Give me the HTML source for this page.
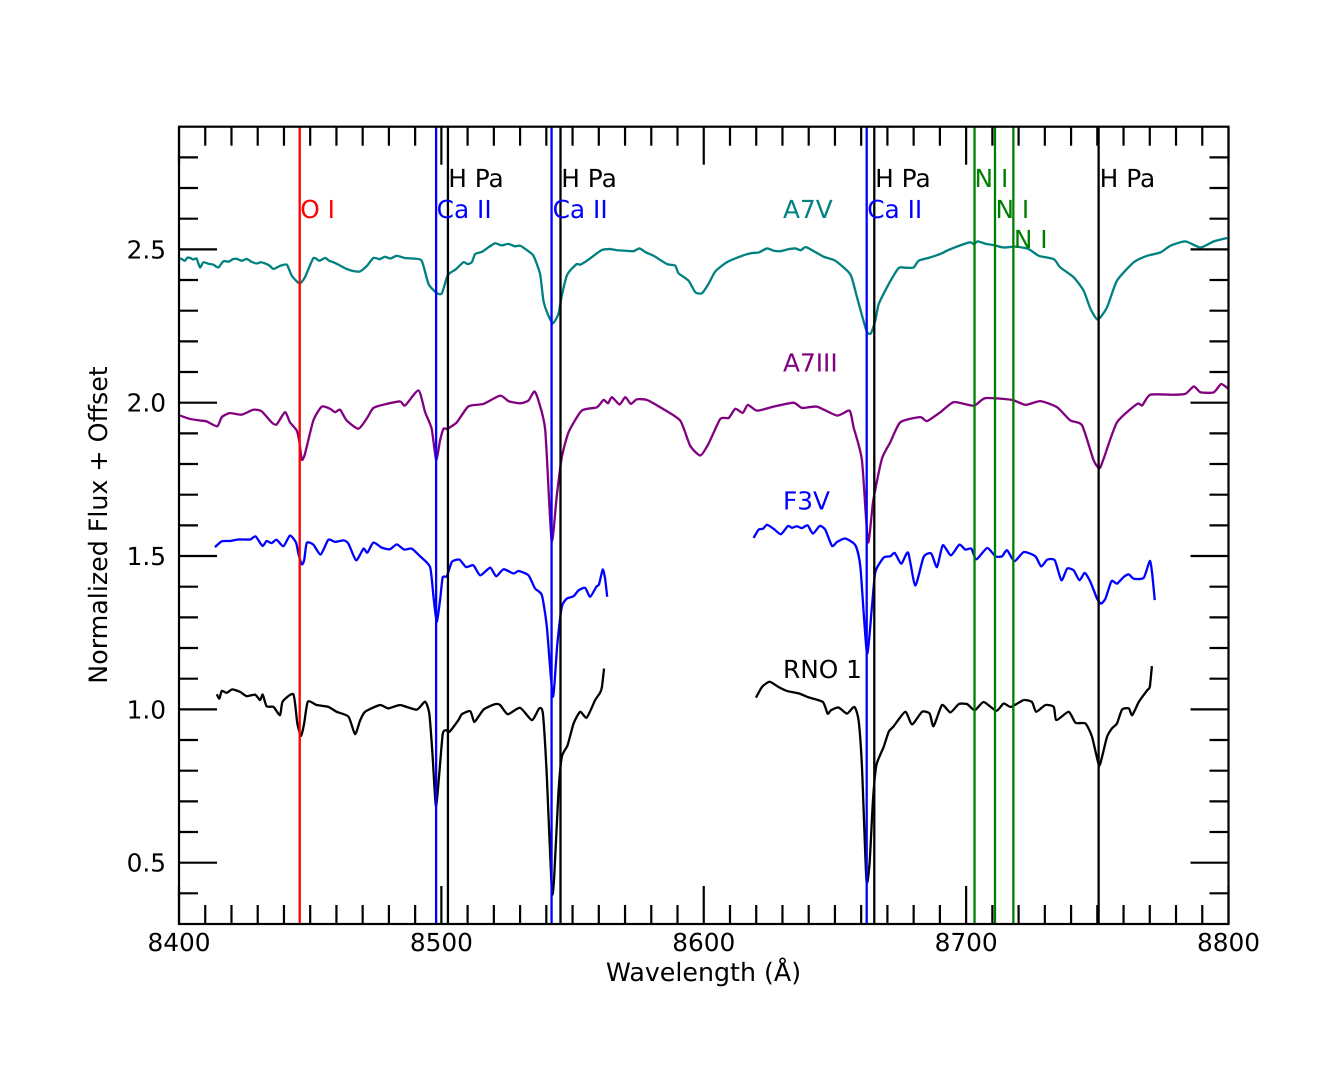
<!DOCTYPE html>
<html lang="en">
<head>
<meta charset="utf-8">
<title>Normalized spectra</title>
<style>
html,body{margin:0;padding:0;background:#fff;width:1333px;height:1066px;overflow:hidden}
svg{display:block}
text{font-family:"DejaVu Sans","Liberation Sans",sans-serif;font-size:24.8px;text-rendering:geometricPrecision}
</style>
</head>
<body>
<svg id="chart" xmlns="http://www.w3.org/2000/svg" width="1333" height="1066" viewBox="0 0 1333 1066"></svg>
<script>
const a7vWave=[8400.4,8401.5,8402.3,8403.2,8404.2,8405.5,8406.7,8408.0,8409.3,8411.2,
8413.1,8415.0,8416.9,8419.0,8420.5,8422.0,8424.0,8425.8,8427.5,8429.6,
8431.2,8432.8,8434.5,8436.0,8438.5,8441.1,8443.0,8445.9,8448.0,8451.2,
8453.5,8455.7,8457.2,8458.8,8461.0,8463.9,8466.5,8469.0,8471.5,8474.1,
8476.5,8478.5,8480.5,8483.0,8486.0,8489.0,8492.5,8495.1,8498.3,8500.2,
8502.1,8503.1,8505.5,8508.4,8510.0,8511.6,8512.9,8515.5,8518.0,8520.5,
8523.0,8525.5,8528.0,8530.0,8532.5,8535.1,8537.6,8538.9,8540.5,8542.5,
8544.6,8545.9,8547.8,8549.5,8551.6,8552.9,8555.5,8558.0,8561.2,8564.3,
8567.0,8569.4,8573.2,8575.5,8578.0,8580.9,8586.0,8589.1,8590.4,8594.2,
8596.8,8599.3,8601.8,8604.4,8608.8,8614.6,8618.4,8621.0,8624.1,8626.5,
8629.2,8632.0,8634.9,8637.0,8639.1,8645.7,8650.1,8655.9,8658.4,8662.0,
8663.7,8665.4,8666.7,8670.5,8674.3,8677.0,8680.0,8681.9,8686.0,8690.2,
8693.3,8698.4,8701.6,8703.0,8704.4,8707.5,8710.5,8714.3,8718.8,8723.8,
8727.7,8733.4,8735.9,8741.0,8744.8,8747.4,8750.2,8753.7,8757.5,8763.9,
8769.0,8774.1,8777.9,8783.6,8789.3,8794.4,8799.5];
const a7vFlux=[2.471,2.466,2.463,2.473,2.472,2.467,2.470,2.441,2.458,2.453,
2.450,2.441,2.461,2.460,2.468,2.469,2.463,2.469,2.460,2.454,
2.458,2.454,2.447,2.436,2.446,2.450,2.414,2.389,2.409,2.471,
2.463,2.472,2.463,2.458,2.449,2.436,2.429,2.428,2.445,2.472,
2.468,2.476,2.470,2.479,2.472,2.470,2.463,2.387,2.357,2.357,
2.409,2.422,2.435,2.458,2.452,2.458,2.485,2.492,2.507,2.520,
2.513,2.518,2.510,2.512,2.498,2.479,2.420,2.333,2.290,2.259,
2.289,2.349,2.414,2.435,2.452,2.450,2.463,2.479,2.498,2.501,
2.497,2.496,2.494,2.503,2.490,2.479,2.452,2.447,2.422,2.398,
2.360,2.357,2.387,2.428,2.458,2.479,2.488,2.490,2.503,2.496,
2.494,2.500,2.503,2.497,2.507,2.476,2.463,2.418,2.344,2.235,
2.226,2.268,2.322,2.387,2.439,2.440,2.441,2.463,2.473,2.485,
2.498,2.515,2.523,2.517,2.526,2.518,2.514,2.506,2.509,2.501,
2.479,2.468,2.441,2.409,2.365,2.306,2.271,2.311,2.398,2.458,
2.479,2.490,2.512,2.526,2.506,2.526,2.537];

const a7iiiWave=[8400.4,8404.2,8408.0,8410.5,8414.6,8416.3,8419.4,8423.9,8428.3,8431.5,
8435.3,8437.2,8440.4,8442.3,8444.9,8445.9,8446.8,8448.0,8451.2,8454.4,
8457.6,8459.5,8461.4,8463.9,8468.4,8471.6,8474.1,8479.2,8484.3,8486.2,
8491.3,8493.8,8496.3,8498.0,8499.5,8500.8,8502.3,8505.9,8510.3,8516.0,
8522.4,8525.6,8530.0,8533.2,8535.4,8537.0,8539.6,8542.0,8544.0,8545.9,
8548.5,8553.5,8559.3,8561.8,8563.5,8565.0,8567.9,8570.1,8572.2,8574.5,
8578.3,8583.4,8591.0,8594.8,8598.7,8601.8,8606.3,8609.5,8612.0,8614.9,
8616.8,8620.3,8626.6,8634.2,8637.4,8643.1,8650.8,8655.6,8657.1,8660.3,
8662.6,8664.6,8667.9,8671.1,8674.9,8682.5,8685.1,8690.2,8695.3,8702.9,
8707.3,8717.5,8722.6,8728.3,8734.7,8739.7,8744.2,8748.6,8750.8,8752.4,
8757.5,8765.2,8767.1,8770.2,8779.1,8783.6,8786.8,8789.3,8794.4,8797.2,8800.0];
const a7iiiFlux=[1.958,1.947,1.942,1.939,1.923,1.953,1.966,1.961,1.977,1.972,
1.936,1.929,1.969,1.936,1.909,1.871,1.814,1.833,1.942,1.987,
1.980,1.969,1.977,1.942,1.915,1.949,1.983,1.996,2.004,1.991,
2.040,1.969,1.915,1.814,1.877,1.915,1.915,1.936,1.988,1.996,
2.023,2.005,1.998,2.007,2.037,2.007,1.909,1.551,1.698,1.822,
1.904,1.974,1.985,2.009,1.998,2.018,1.994,2.018,1.996,2.011,
2.009,1.985,1.942,1.860,1.828,1.866,1.947,1.950,1.980,1.967,
1.993,1.974,1.987,2.000,1.983,1.987,1.958,1.974,1.920,1.812,
1.545,1.681,1.817,1.871,1.936,1.953,1.940,1.969,2.002,1.990,
2.015,2.009,1.993,2.005,1.985,1.942,1.926,1.812,1.786,1.817,
1.936,1.996,1.991,2.026,2.026,2.029,2.053,2.034,2.034,2.061,2.045];

const f3vLeftWave=[8413.7,8416.3,8419.4,8422.6,8427.1,8429.2,8431.8,8433.4,8435.3,8437.2,
8439.8,8442.3,8444.6,8445.5,8446.8,8447.7,8448.7,8451.2,8454.0,8456.9,
8459.5,8462.7,8464.6,8467.5,8470.3,8471.8,8474.1,8477.3,8480.4,8483.0,
8485.8,8488.7,8491.9,8495.7,8497.0,8498.2,8499.5,8500.5,8502.1,8504.0,
8506.9,8509.4,8512.2,8514.8,8518.6,8520.9,8523.7,8527.5,8529.4,8533.2,
8535.7,8538.3,8540.2,8542.5,8544.2,8545.9,8547.8,8550.4,8552.3,8554.8,
8556.7,8559.0,8560.1,8561.5,8562.4,8563.2];
const f3vLeftFlux=[1.529,1.548,1.549,1.554,1.554,1.564,1.533,1.549,1.542,1.553,
1.532,1.567,1.544,1.508,1.473,1.486,1.543,1.537,1.505,1.553,
1.546,1.551,1.540,1.486,1.524,1.511,1.544,1.527,1.522,1.538,
1.521,1.524,1.499,1.464,1.367,1.285,1.356,1.430,1.434,1.481,
1.488,1.464,1.470,1.437,1.462,1.434,1.457,1.443,1.451,1.437,
1.394,1.372,1.269,1.041,1.214,1.334,1.361,1.369,1.388,1.396,
1.367,1.399,1.408,1.456,1.426,1.367];
const f3vRightWave=[8619.0,8620.9,8622.6,8624.1,8626.6,8629.4,8632.1,8633.6,8635.5,8637.4,
8639.6,8641.6,8644.2,8646.3,8648.9,8650.8,8653.9,8657.8,8659.7,8662.2,
8664.1,8665.4,8668.6,8671.1,8672.8,8675.3,8677.9,8680.6,8683.8,8686.7,
8688.9,8691.1,8694.2,8697.4,8699.7,8702.0,8703.9,8708.0,8711.2,8713.7,
8715.6,8718.4,8722.0,8726.4,8728.6,8730.9,8733.8,8736.3,8738.5,8741.0,
8743.2,8745.2,8747.4,8749.9,8751.4,8753.1,8755.4,8757.5,8760.1,8762.0,
8763.9,8767.7,8770.0,8770.9,8771.9];
const f3vRightFlux=[1.559,1.586,1.589,1.602,1.589,1.571,1.598,1.592,1.597,1.591,
1.600,1.573,1.598,1.586,1.533,1.546,1.557,1.535,1.464,1.182,
1.334,1.448,1.495,1.499,1.510,1.475,1.511,1.404,1.497,1.508,
1.464,1.535,1.502,1.537,1.521,1.524,1.489,1.526,1.499,1.499,
1.519,1.483,1.513,1.499,1.466,1.488,1.486,1.421,1.459,1.453,
1.421,1.445,1.415,1.361,1.345,1.361,1.418,1.410,1.432,1.440,
1.426,1.429,1.484,1.443,1.356];

const rnoLeftWave=[8414.4,8415.4,8416.3,8418.2,8420.3,8423.3,8425.8,8429.0,8430.9,8431.9,
8433.4,8436.0,8438.5,8439.5,8443.6,8445.1,8446.5,8447.7,8449.1,8452.5,
8456.9,8460.1,8464.6,8467.1,8469.0,8470.9,8476.6,8479.8,8484.3,8490.6,
8493.8,8495.4,8496.6,8497.9,8499.1,8500.5,8501.8,8503.1,8506.5,8507.8,
8511.0,8512.5,8514.1,8516.3,8520.5,8522.4,8525.3,8530.0,8534.5,8537.3,
8538.7,8540.2,8542.1,8543.0,8544.6,8545.9,8548.1,8550.4,8552.9,8555.4,
8558.6,8560.5,8561.2,8562.0];
const rnoLeftFlux=[1.049,1.035,1.060,1.054,1.065,1.057,1.043,1.048,1.030,1.048,
1.010,1.008,0.981,1.025,1.049,0.954,0.913,0.954,1.025,1.014,
1.008,0.992,0.976,0.919,0.963,0.992,1.014,1.003,1.014,0.999,
1.025,0.986,0.856,0.685,0.780,0.919,0.932,0.927,0.965,0.984,
0.994,0.959,0.976,1.001,1.017,1.014,0.984,1.005,0.965,1.003,
0.986,0.780,0.406,0.454,0.726,0.845,0.883,0.954,0.992,0.973,
1.030,1.054,1.073,1.133];
const rnoRightWave=[8619.9,8622.2,8625.1,8628.5,8631.7,8636.2,8640.0,8645.4,8647.2,8648.5,
8651.4,8654.6,8657.4,8659.0,8660.3,8662.0,8663.2,8664.5,8665.8,8668.6,
8670.5,8672.4,8676.8,8679.4,8683.2,8686.1,8687.6,8690.8,8694.0,8697.2,
8700.4,8703.3,8706.7,8711.5,8714.3,8717.1,8721.9,8725.1,8726.7,8730.2,
8733.4,8734.4,8739.1,8741.7,8745.5,8748.0,8750.6,8751.8,8753.7,8755.6,
8757.5,8759.4,8762.0,8763.3,8765.8,8769.0,8770.0,8770.8];
const rnoRightFlux=[1.038,1.073,1.090,1.073,1.060,1.052,1.039,1.024,0.986,0.997,
1.006,0.986,1.008,0.965,0.813,0.443,0.498,0.704,0.818,0.878,
0.927,0.945,0.992,0.951,0.992,0.986,0.945,1.014,0.990,1.017,
1.017,0.997,1.024,0.995,1.019,1.008,1.030,1.024,0.992,1.014,
1.008,0.965,0.992,0.956,0.954,0.910,0.818,0.845,0.910,0.938,
0.954,0.999,1.003,0.981,1.024,1.062,1.073,1.141];

const redLineWaves=[8446.0];
const blueLineWaves=[8498.0,8542.0,8662.1];
const blackLineWaves=[8502.5,8545.4,8665.0,8750.5];
const greenLineWaves=[8703.2,8711.0,8718.0];

const xMajorTicks=[8400,8500,8600,8700,8800];
const xMinorTicks=[8410,8420,8430,8440,8450,8460,8470,8480,8490,8510,8520,8530,8540,8550,8560,8570,8580,8590,8610,8620,8630,8640,8650,8660,8670,8680,8690,8710,8720,8730,8740,8750,8760,8770,8780,8790];
const yMajorTicks=[0.5,1.0,1.5,2.0,2.5];
const yMinorTicks=[0.4,0.6,0.7,0.8,0.9,1.1,1.2,1.3,1.4,1.6,1.7,1.8,1.9,2.1,2.2,2.3,2.4,2.6,2.7,2.8];
const xTickLabels=["8400","8500","8600","8700","8800"];
const yTickLabels=["0.5","1.0","1.5","2.0","2.5"];

const annotationTexts=["O I","H Pa","Ca II","H Pa","Ca II","A7V","H Pa","Ca II","N I","N I","N I","H Pa","A7III","F3V","RNO 1"];
const annotationWaves=[8446.2,8502.6,8498.2,8545.7,8542.4,8630.2,8665.3,8662.3,8703.2,8711.2,8718.2,8750.9,8630.2,8630.2,8630.2];
const annotationFlux=[2.603,2.703,2.603,2.703,2.603,2.603,2.703,2.603,2.703,2.603,2.505,2.703,2.102,1.652,1.102];
const annotationColors=["#ff0000","#000000","#0000ff","#000000","#0000ff","#008080","#000000","#0000ff","#008000","#008000","#008000","#000000","#800080","#0000ff","#000000"];

const L=179,R=1228.5,T=126.7,B=924;
const xMin=8400,xMax=8800,yMin=0.3,yMax=2.9;
function X(w){return L+(w-xMin)/(xMax-xMin)*(R-L);}
function Y(f){return B-(f-yMin)/(yMax-yMin)*(B-T);}
const svg=document.getElementById('chart');
const NS='http://www.w3.org/2000/svg';
function make(tag,attrs,name){
  const el=document.createElementNS(NS,tag);
  for(const k in attrs){el.setAttribute(k,attrs[k]);}
  
  
  svg.appendChild(el);
  return el;
}
function seg(x1,y1,x2,y2,color,width,name){
  return make('line',{x1:x1,y1:y1,x2:x2,y2:y2,stroke:color,'stroke-width':width},name);
}
function series(wave,flux,color,name){
  const px=wave.map(X),py=flux.map(Y);
  let d='M'+px[0].toFixed(2)+' '+py[0].toFixed(2);
  for(let i=0;i<px.length-1;i++){
    const a=Math.max(i-1,0),b=Math.min(i+2,px.length-1);
    const c1x=px[i]+(px[i+1]-px[a])/10,c1y=py[i]+(py[i+1]-py[a])/10;
    const c2x=px[i+1]-(px[b]-px[i])/10,c2y=py[i+1]-(py[b]-py[i])/10;
    d+='C'+c1x.toFixed(2)+' '+c1y.toFixed(2)+' '+c2x.toFixed(2)+' '+c2y.toFixed(2)+' '+px[i+1].toFixed(2)+' '+py[i+1].toFixed(2);
  }
  return make('path',{d:d,fill:'none',stroke:color,'stroke-width':2.3,'stroke-linejoin':'round'},name);
}
function label(x,y,str,color,anchor,name){
  const t=make('text',{x:x,y:y,fill:color,'text-anchor':anchor},name);
  t.textContent=str;
  return t;
}
series(a7vWave,a7vFlux,'#008080','a7v-spectrum');
series(a7iiiWave,a7iiiFlux,'#800080','a7iii-spectrum');
series(f3vLeftWave,f3vLeftFlux,'#0000ff','f3v-spectrum-left');
series(f3vRightWave,f3vRightFlux,'#0000ff','f3v-spectrum-right');
series(rnoLeftWave,rnoLeftFlux,'#000000','rno1-spectrum-left');
series(rnoRightWave,rnoRightFlux,'#000000','rno1-spectrum-right');
redLineWaves.forEach(function(w){seg(X(w),T,X(w),B,'#ff0000',2.3,'o-i-line');});
blackLineWaves.forEach(function(w){seg(X(w),T,X(w),B,'#000000',2.3,'h-pa-line');});
blueLineWaves.forEach(function(w){seg(X(w),T,X(w),B,'#0000ff',2.3,'ca-ii-line');});
greenLineWaves.forEach(function(w){seg(X(w),T,X(w),B,'#008000',2.3,'n-i-line');});
xMinorTicks.forEach(function(v){
  seg(X(v),B,X(v),B-19,'#000',2.2,'x-minor-tick-bottom');
  seg(X(v),T,X(v),T+19,'#000',2.2,'x-minor-tick-top');
});
xMajorTicks.forEach(function(v,i){
  seg(X(v),B,X(v),B-38,'#000',2.2,'x-major-tick-bottom');
  seg(X(v),T,X(v),T+38,'#000',2.2,'x-major-tick-top');
  label(X(v),951,xTickLabels[i],'#000','middle','x-tick-label');
});
yMinorTicks.forEach(function(v){
  seg(L,Y(v),L+19,Y(v),'#000',2.2,'y-minor-tick-left');
  seg(R,Y(v),R-19,Y(v),'#000',2.2,'y-minor-tick-right');
});
yMajorTicks.forEach(function(v,i){
  seg(L,Y(v),L+38,Y(v),'#000',2.2,'y-major-tick-left');
  seg(R,Y(v),R-38,Y(v),'#000',2.2,'y-major-tick-right');
  label(166,Y(v)+9,yTickLabels[i],'#000','end','y-tick-label');
});
make('rect',{x:L,y:T,width:R-L,height:B-T,fill:'none',stroke:'#000','stroke-width':2.2},'plot-frame');
annotationTexts.forEach(function(s,i){
  label(X(annotationWaves[i]),Y(annotationFlux[i]),s,annotationColors[i],'start','spectrum-annotation');
});
const xTitle=label(703.5,981,'Wavelength (Å)','#000','middle','x-axis-title');
xTitle.style.fontSize='25.3px';
const yTitle=label(0,0,'Normalized Flux + Offset','#000','middle','y-axis-title');
yTitle.style.fontSize='25.3px';
yTitle.setAttribute('transform','translate(107,525) rotate(-90)');
</script>
</body>
</html>
